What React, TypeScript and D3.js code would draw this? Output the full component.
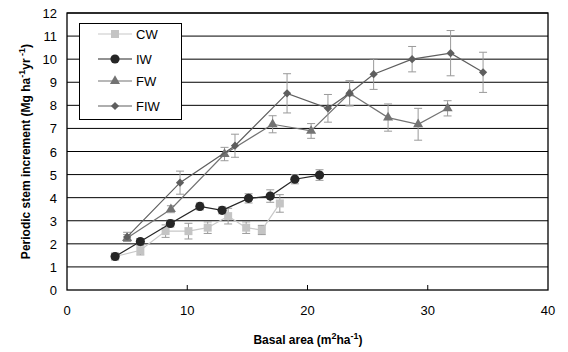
import React, { useEffect, useRef } from 'react';
import * as d3 from 'd3';

interface Pt { x: number; y: number; e: number; }

const cwX = [4.0, 6.1, 8.2, 10.1, 11.7, 13.4, 14.9, 16.2, 17.7];
const cwY = [1.45, 1.72, 2.55, 2.55, 2.7, 3.2, 2.7, 2.6, 3.75];
const cwE = [0.15, 0.2, 0.27, 0.34, 0.25, 0.34, 0.25, 0.2, 0.38];

const iwX = [4.0, 6.1, 8.6, 11.05, 12.9, 15.1, 16.9, 18.95, 21.0];
const iwY = [1.45, 2.1, 2.88, 3.62, 3.45, 3.97, 4.07, 4.8, 4.98];
const iwE = [0.1, 0.12, 0.15, 0.15, 0.15, 0.2, 0.27, 0.2, 0.23];

const fwX = [5.0, 8.64, 13.1, 17.1, 20.3, 23.5, 26.7, 29.2, 31.65];
const fwY = [2.25, 3.5, 5.89, 7.18, 6.89, 8.52, 7.47, 7.18, 7.87];
const fwE = [0.15, 0.15, 0.29, 0.37, 0.32, 0.54, 0.59, 0.69, 0.33];

const fiwX = [5.0, 9.4, 13.97, 18.3, 21.7, 23.5, 25.5, 28.7, 31.9, 34.6];
const fiwY = [2.3, 4.65, 6.25, 8.52, 7.87, 8.52, 9.35, 10.0, 10.26, 9.43];
const fiwE = [0.2, 0.5, 0.5, 0.85, 0.6, 0.54, 0.66, 0.55, 0.98, 0.87];

const xTicks = [0, 10, 20, 30, 40];
const yTicks = [0, 1, 2, 3, 4, 5, 6, 7, 8, 9, 10, 11, 12];

const zip = (xs: number[], ys: number[], es: number[]): Pt[] => xs.map((x, i) => ({ x, y: ys[i], e: es[i] }));

const series = [
  { name: 'CW', data: zip(cwX, cwY, cwE), line: '#c8c8c8', fill: '#c4c4c4', shape: 'square' },
  { name: 'IW', data: zip(iwX, iwY, iwE), line: '#262626', fill: '#262626', shape: 'circle' },
  { name: 'FW', data: zip(fwX, fwY, fwE), line: '#737373', fill: '#737373', shape: 'triangle' },
  { name: 'FIW', data: zip(fiwX, fiwY, fiwE), line: '#5e5e5e', fill: '#5e5e5e', shape: 'diamond' },
];

const symbolFor = (shape: string) => {
  if (shape === 'square') return d3.symbol(d3.symbolSquare, 64);
  if (shape === 'circle') return d3.symbol(d3.symbolCircle, 66);
  if (shape === 'triangle') return d3.symbol(d3.symbolTriangle, 44);
  return d3.symbol(d3.symbolSquare, 34); // rotated 45deg below
};
const rot = (shape: string) => (shape === 'diamond' ? ' rotate(45)' : '');

export default function App() {
  const svgRef = useRef<SVGSVGElement>(null);

  useEffect(() => {
    if (!svgRef.current) return;
    const svg = d3.select(svgRef.current);
    svg.selectAll('*').remove();

    const margin = { left: 67, right: 20, top: 13, bottom: 62 };
    const W = 568, H = 352;
    const x = d3.scaleLinear().domain([0, 40]).range([margin.left, W - margin.right]);
    const y = d3.scaleLinear().domain([0, 12]).range([H - margin.bottom, margin.top]);
    const font = 'Liberation Sans, Arial, sans-serif';

    // gridlines
    svg.append('g')
      .selectAll('line')
      .data(yTicks.slice(1))
      .join('line')
      .attr('x1', x(0)).attr('x2', x(40))
      .attr('y1', d => y(d)).attr('y2', d => y(d))
      .attr('stroke', '#000').attr('stroke-width', 1);

    // frame
    svg.append('rect')
      .attr('x', x(0)).attr('y', y(12))
      .attr('width', x(40) - x(0)).attr('height', y(0) - y(12))
      .attr('fill', 'none').attr('stroke', '#000').attr('stroke-width', 1.3);

    // x axis ticks (inside)
    svg.append('g')
      .selectAll('line')
      .data(xTicks.slice(1, -1))
      .join('line')
      .attr('x1', d => x(d)).attr('x2', d => x(d))
      .attr('y1', y(0)).attr('y2', y(0) - 5)
      .attr('stroke', '#000');

    svg.append('g')
      .selectAll('text')
      .data(xTicks)
      .join('text')
      .attr('x', d => x(d)).attr('y', y(0) + 25)
      .attr('text-anchor', 'middle')
      .style('font-family', font).style('font-size', '13px')
      .text(d => d);

    svg.append('g')
      .selectAll('text')
      .data(yTicks)
      .join('text')
      .attr('x', x(0) - 10).attr('y', d => y(d) + 5)
      .attr('text-anchor', 'end')
      .style('font-family', font).style('font-size', '13px')
      .text(d => d);

    // axis titles
    const xt = svg.append('text')
      .attr('x', 308).attr('y', 344)
      .attr('text-anchor', 'middle')
      .style('font-family', font).style('font-size', '12px').style('font-weight', 'bold');
    xt.append('tspan').text('Basal area (m');
    xt.append('tspan').attr('dy', -5).style('font-size', '9px').text('2');
    xt.append('tspan').attr('dy', 5).text('ha');
    xt.append('tspan').attr('dy', -5).style('font-size', '9px').text('-1');
    xt.append('tspan').attr('dy', 5).text(')');

    const yt = svg.append('text')
      .attr('transform', `translate(30,${(y(0) + y(12)) / 2}) rotate(-90)`)
      .attr('text-anchor', 'middle')
      .style('font-family', font).style('font-size', '12px').style('font-weight', 'bold');
    yt.append('tspan').text('Periodic stem increment (Mg ha');
    yt.append('tspan').attr('dy', -5).style('font-size', '9px').text('-1');
    yt.append('tspan').attr('dy', 5).text('yr');
    yt.append('tspan').attr('dy', -5).style('font-size', '9px').text(' -1');
    yt.append('tspan').attr('dy', 5).text(')');

    const line = d3.line<Pt>().x(d => x(d.x)).y(d => y(d.y));

    series.forEach(s => {
      const g = svg.append('g');
      // error bars
      const eb = g.selectAll('g.eb').data(s.data).join('g').attr('class', 'eb');
      eb.append('line')
        .attr('x1', d => x(d.x)).attr('x2', d => x(d.x))
        .attr('y1', d => y(d.y - d.e)).attr('y2', d => y(d.y + d.e))
        .attr('stroke', '#9a9a9a').attr('stroke-width', 1);
      [-1, 1].forEach(sg => {
        eb.append('line')
          .attr('x1', d => x(d.x) - 4).attr('x2', d => x(d.x) + 4)
          .attr('y1', d => y(d.y + sg * d.e)).attr('y2', d => y(d.y + sg * d.e))
          .attr('stroke', '#9a9a9a').attr('stroke-width', 1);
      });
      g.append('path')
        .attr('d', line(s.data))
        .attr('fill', 'none').attr('stroke', s.line).attr('stroke-width', 1.2);
      g.selectAll('path.pt').data(s.data).join('path').attr('class', 'pt')
        .attr('d', symbolFor(s.shape)())
        .attr('transform', d => `translate(${x(d.x)},${y(d.y)})${rot(s.shape)}`)
        .attr('fill', s.fill);
    });

    // legend
    const lg = svg.append('g');
    lg.append('rect')
      .attr('x', 79.5).attr('y', 23.5).attr('width', 102).attr('height', 96)
      .attr('fill', '#fff').attr('stroke', '#000').attr('stroke-width', 1);
    const rows = [34, 59, 81, 106];
    series.forEach((s, i) => {
      lg.append('line')
        .attr('x1', 98).attr('x2', 132).attr('y1', rows[i]).attr('y2', rows[i])
        .attr('stroke', s.line).attr('stroke-width', 1.2);
      lg.append('path')
        .attr('d', symbolFor(s.shape)())
        .attr('transform', `translate(115,${rows[i]})${rot(s.shape)}`)
        .attr('fill', s.fill);
      lg.append('text')
        .attr('x', 136).attr('y', rows[i] + 5)
        .style('font-family', font).style('font-size', '13px')
        .text(s.name);
    });
  }, []);

  return (
    <div style={{ position: 'absolute', left: 0, top: 0 }}>
      <svg ref={svgRef} width={568} height={352} style={{ display: 'block', background: '#fff' }} />
    </div>
  );
}
